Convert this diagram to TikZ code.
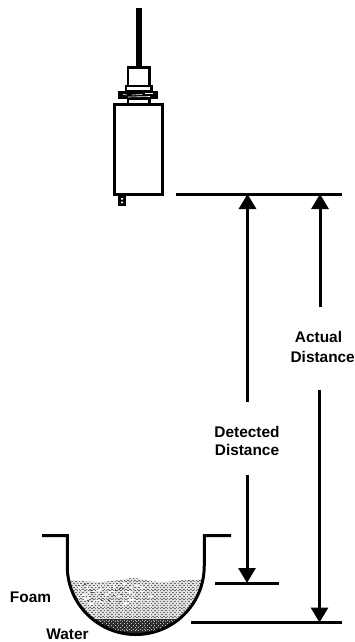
\documentclass[tikz,border=0pt]{standalone}
\usepackage{fontspec}
\setmainfont{Liberation Sans}
\usetikzlibrary{arrows.meta}
\tikzset{
  px/.style={x=1pt,y=-1pt},
  ln/.style={line width=3pt,line cap=butt},
  part/.style={draw=black,line width=3pt,fill=white,line join=miter},
  tipped/.style={line width=3pt,-{Triangle[length=15pt,width=17pt]}},
  lbl/.style={font=\bfseries\fontsize{15.4}{18}\selectfont,inner sep=0pt,align=center,text=black}
}
\begin{document}
\begin{tikzpicture}[px]
\useasboundingbox (0,0) rectangle (355,642);
\fill[white] (0,0) rectangle (355,642);
% sensor
\draw[line width=5.5pt] (139,8) -- (139,67);
\draw[part,line width=2.6pt] (128,67.5) rectangle (149.5,86);
\draw[part,line width=2.4pt] (126,86) rectangle (151.5,91.5);
\draw[part,line width=2.4pt] (128,99) rectangle (149.5,104);
\fill[black] (118,91) rectangle (158,99);
\draw[white,line width=.6pt] (123,94.5) -- (127,95) (132,95) -- (142,94.5) (145,93.5) -- (153,93.5) (128,97) -- (150,96.5);
\draw[part] (114.5,104) rectangle (162,194.5);
\fill[black] (118,196) rectangle (126,206);
\fill[white] (121,198) rectangle (123,199.5) (121,201.5) rectangle (123,203);
% bowl contents
\begin{scope}
\clip (67.25,566) arc[start angle=180,end angle=0,radius=68.5] -- cycle;
\begin{scope}
\clip plot[smooth] coordinates {(60,581) (80,581) (100,582) (120,580) (134,578) (150,581) (165,582) (185,580) (210,580)} -- (210,640) -- (60,640) -- cycle;
\fill[black!12] (60,570) rectangle (210,640);
\foreach \i in {0,...,38} \foreach \j in {0,...,24} {
  \fill[black!58] ({66+3.6*\i+1.8*mod(\j,2)},{576+1.8*\j}) rectangle +(1.6,1);
}
\pgfmathsetseed{7}
\foreach \k in {1,...,70} {
  \pgfmathsetmacro{\xx}{78+70*rnd}
  \pgfmathsetmacro{\yy}{583+22*rnd}
  \pgfmathsetmacro{\ww}{1.5+3.5*rnd}
  \fill[white] (\xx,\yy) rectangle +(\ww,1);
}
\foreach \k in {1,...,18} {
  \pgfmathsetmacro{\xx}{78+50*rnd}
  \pgfmathsetmacro{\yy}{583+18*rnd}
  \fill[black!70] (\xx,\yy) rectangle +(2,.9);
}
\end{scope}
\fill[black!82] (60,618.5) rectangle (210,640);
\foreach \i in {0,...,22} \foreach \j in {0,...,6} {
  \fill[black!25] ({95+3.6*\i+1.8*mod(\j,2)},{619.5+1.8*\j}) rectangle +(1,.7);
}
\end{scope}
% bowl
\draw[ln,line join=miter] (42,535.5) -- (67.25,535.5) -- (67.25,566) arc[start angle=180,end angle=0,radius=68.5] -- (204.25,535.5) -- (231,535.5);
% reference lines
\coordinate (topL) at (176,194);
\coordinate (topR) at (342,194);
\coordinate (detL) at (215,583);
\coordinate (detR) at (279,583);
\coordinate (actL) at (191,622.5);
\coordinate (actR) at (342,622.5);
\draw[ln] (topL) -- (topR);
\draw[ln] (detL) -- (detR);
\draw[ln] (actL) -- (actR);
% labels
\node[lbl] (detected) at (247,441) {Detected\\Distance};
\node[lbl] (actual) at (318.5,337) {Actual};
\node[lbl] (distance) at (322.7,357) {Distance};
\node[lbl] (foam) at (30.5,597) {Foam};
\node[lbl,anchor=base] (water) at (67.5,639.5) {Water};
% arrows
\coordinate (d1) at (247.5,402);
\coordinate (d2) at (247.5,194);
\coordinate (d3) at (247,475);
\coordinate (d4) at (247,583);
\coordinate (a1) at (320,307);
\coordinate (a2) at (320,194);
\coordinate (a3) at (319.5,390);
\coordinate (a4) at (319.5,622.5);
\draw[tipped] (d1) -- (d2);
\draw[tipped] (d3) -- (d4);
\draw[tipped] (a1) -- (a2);
\draw[tipped] (a3) -- (a4);
\end{tikzpicture}
\end{document}
